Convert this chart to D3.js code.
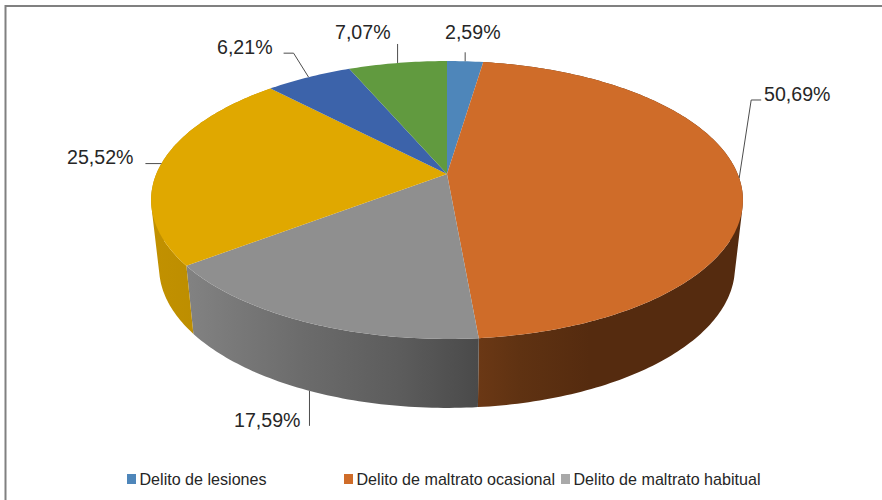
<!DOCTYPE html>
<html lang="en">
<head>
  <meta charset="UTF-8">
  <title>Delitos</title>
  <script src="https://cdnjs.cloudflare.com/ajax/libs/d3/7.8.5/d3.min.js"></script>
  <style>
    html, body { margin: 0; padding: 0; background: #fff; }
    svg { display: block; font-family: "Liberation Sans", Arial, sans-serif; }
    .pct { font-size: 19.6px; fill: #262626; }
    .legend text { font-size: 16.1px; fill: #262626; }
    .leader { fill: none; stroke: #4d4d4d; stroke-width: 1; }
  </style>
</head>
<body>
  <svg width="882" height="500"></svg>

  <script>
    // slices, in drawing order clockwise from 12 o'clock
    const categories = ['Delito de lesiones', 'Delito de maltrato ocasional', 'Delito de maltrato habitual', 'd4', 'd5', 'd6']
    const values = [2.59, 50.69, 17.59, 25.52, 6.21, 7.07]
    const valueLabels = ['2,59%', '50,69%', '17,59%', '25,52%', '6,21%', '7,07%']
    const colors = ['#4e86ba', '#cf6c29', '#8f8f8f', '#e0a800', '#3c63aa', '#619a3f']
    const legendCount = 3
    const legendColors = ['#4e86ba', '#cf6c29', '#a9a9a9']

    const svg = d3.select('svg')

    // frame runs off the right and bottom of the picture
    svg.append('path')
      .attr('d', 'M5.5,500V6H882')
      .attr('fill', 'none')
      .attr('stroke', '#808080')
      .attr('stroke-width', 2)

    // 3d look: perspective projection of the unit disc
    const persp = 0.187
    const apex = { x: 447, y: 174 }
    const rimX = 290.7
    const rimY = 134.1
    const depth = 67
    const bottomScaleX = 0.973
    const bottomScaleY = 1.012

    function project(angle, bottom) {
      const u = Math.sin(angle)
      const v = -Math.cos(angle)
      const w = 1 - persp * v
      const sx = bottom ? bottomScaleX : 1
      const sy = bottom ? bottomScaleY : 1
      return [
        apex.x + sx * rimX * u / w,
        apex.y + (bottom ? depth : 0) + sy * rimY * v / w
      ]
    }

    function rimAngles(a0, a1) {
      const n = Math.max(2, Math.ceil(Math.abs(a1 - a0) * 60))
      return d3.range(n + 1).map(i => a0 + (a1 - a0) * i / n)
    }

    function rim(a0, a1, bottom) {
      return rimAngles(a0, a1).map(a => project(a, bottom))
    }

    const line = d3.line()
    const arcs = d3.pie().sort(null).value(d => d)(values)

    // side gradients, dark end is where the light falls off
    const defs = svg.append('defs')
    const sideStops = {
      1: [[478, '#6b3815'], [520, '#5f3212'], [590, '#552b0f'], [745, '#552b0f']],
      2: [[187, '#828282'], [300, '#6c6c6c'], [400, '#5c5c5c'], [478, '#4a4a4a']],
      3: [[150, '#c29100'], [195, '#bd8e00']]
    }
    Object.keys(sideStops).forEach(k => {
      const stops = sideStops[k]
      const x0 = stops[0][0]
      const x1 = stops[stops.length - 1][0]
      const g = defs.append('linearGradient')
        .attr('id', 'side' + k)
        .attr('gradientUnits', 'userSpaceOnUse')
        .attr('x1', x0).attr('x2', x1)
        .attr('y1', 0).attr('y2', 0)
      stops.forEach(s => {
        g.append('stop')
          .attr('offset', (s[0] - x0) / (x1 - x0))
          .attr('stop-color', s[1])
      })
    })

    // wall = union of quads, all wound the same way so nonzero fill has no holes or seams
    function wallPath(a) {
      return d3.pairs(rimAngles(a.startAngle, a.endAngle)).map(p => {
        const quad = [project(p[0], false), project(p[1], false), project(p[1], true), project(p[0], true)]
        if (d3.polygonArea(quad) < 0) quad.reverse()
        return line(quad) + 'Z'
      }).join('')
    }

    svg.append('g').selectAll('path')
      .data(arcs.filter(a => sideStops[a.index]))
      .enter()
      .append('path')
      .attr('fill', a => `url(#side${a.index})`)
      .attr('d', wallPath)

    // lid on top
    svg.append('g').selectAll('path')
      .data(arcs)
      .enter()
      .append('path')
      .attr('fill', a => colors[a.index])
      .attr('d', a => line([[apex.x, apex.y]].concat(rim(a.startAngle, a.endAngle, false))) + 'Z')

    // leader lines start on the rim at the middle of each slice
    const leaderBends = [
      [[0, -9]],
      [[12, -78], [22, -78]],
      [[0, 35]],
      [[-16, 0]],
      [[-15, -24], [-25, -24]],
      [[0, -19]]
    ]
    const labelPos = [[445, 39], [764, 101], [234, 427], [67, 164], [217, 54], [335, 39]]

    svg.append('g').selectAll('path')
      .data(arcs)
      .enter()
      .append('path')
      .attr('class', 'leader')
      .attr('d', a => {
        const mid = (a.startAngle + a.endAngle) / 2
        const start = project(mid, a.index === 2)
        return line([start].concat(leaderBends[a.index].map(b => [start[0] + b[0], start[1] + b[1]])))
      })

    svg.append('g').selectAll('text')
      .data(valueLabels)
      .enter()
      .append('text')
      .attr('class', 'pct')
      .attr('x', (d, i) => labelPos[i][0])
      .attr('y', (d, i) => labelPos[i][1])
      .text(d => d)

    // legend only lists the first three
    const legendX = [127, 344, 561]
    const legend = svg.append('g').attr('class', 'legend')
    categories.slice(0, legendCount).forEach((name, i) => {
      legend.append('rect')
        .attr('x', legendX[i]).attr('y', 474)
        .attr('width', 9).attr('height', 10)
        .attr('fill', legendColors[i])
      legend.append('text')
        .attr('x', legendX[i] + 12.5).attr('y', 485)
        .text(name)
    })
  </script>
</body>
</html>
